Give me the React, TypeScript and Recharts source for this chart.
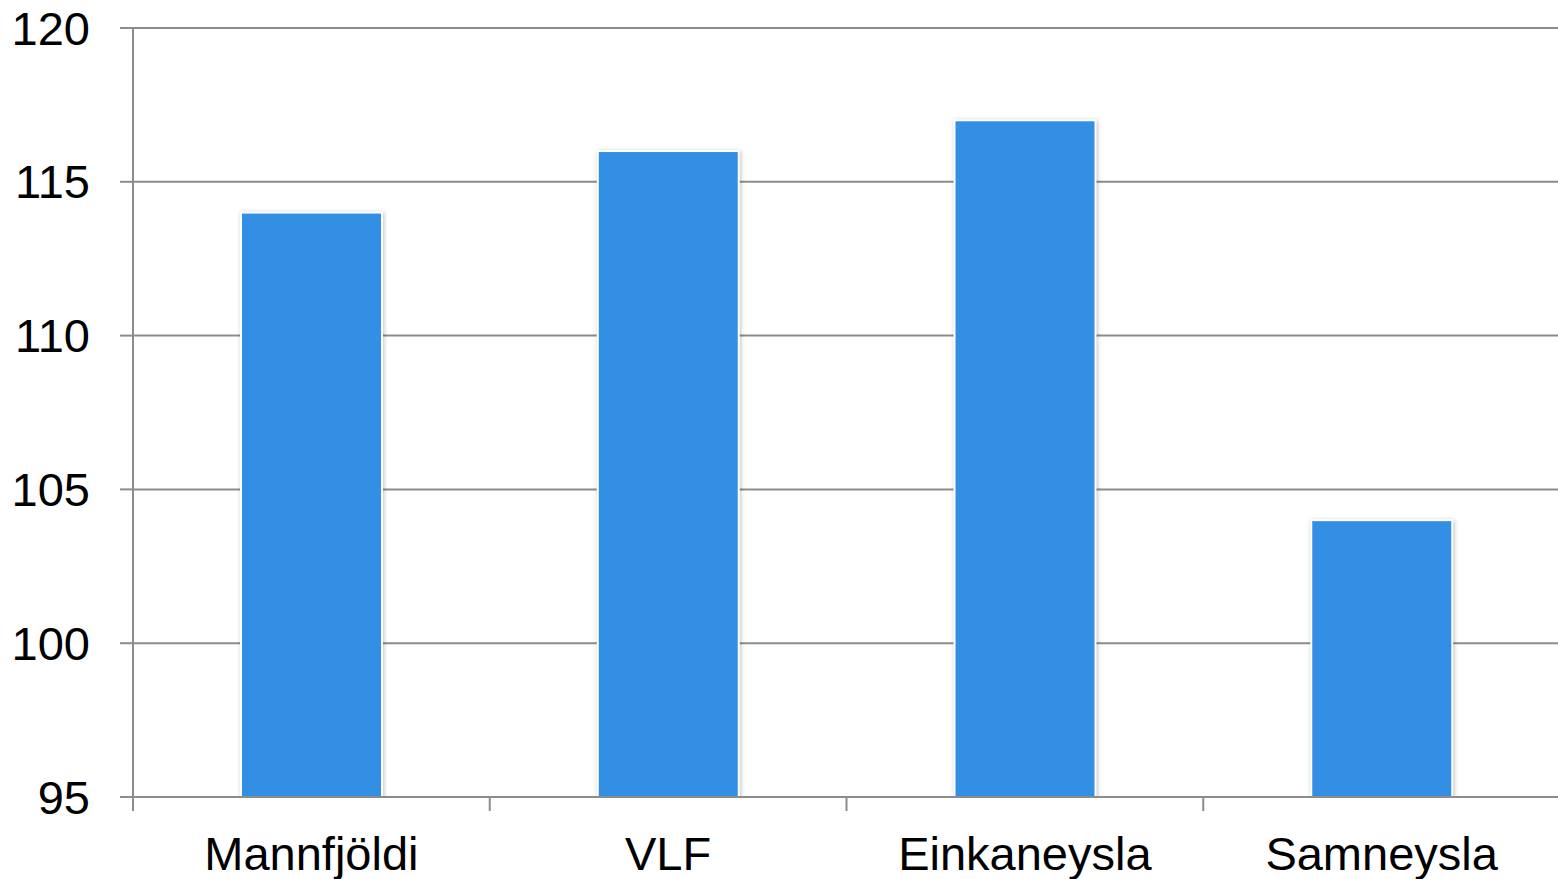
import React from "react";
import { BarChart, Bar, XAxis, YAxis, CartesianGrid } from "recharts";

const categories = ["Mannfjöldi", "VLF", "Einkaneysla", "Samneysla"];
const values = [114, 116, 117, 104];
const yTicks = [95, 100, 105, 110, 115, 120];

const data = categories.map((name, i) => ({ name, value: values[i] }));

const GRID = "#8c8c8c";
const FONT = "'Liberation Sans', Arial, sans-serif";

const XTick = (props: any) => {
  const { x, y, payload, visibleTicksCount } = props;
  const plotW = 1560 - 133;
  const half = plotW / (visibleTicksCount || 4) / 2;
  const axisY = y - 8;
  return (
    <g>
      <line x1={x - half} x2={x - half} y1={axisY} y2={axisY + 14} stroke={GRID} strokeWidth={2} />
      <text x={x} y={axisY + 73} textAnchor="middle" fill="#000" fontSize={47} fontFamily={FONT}>
        {payload.value}
      </text>
    </g>
  );
};

const BarShape = (props: any) => {
  const { x, y, width, height, fill } = props;
  return (
    <rect
      x={x}
      y={y}
      width={width}
      height={height}
      fill={fill}
      stroke="#ffffff"
      strokeWidth={2}
      style={{ filter: "drop-shadow(1px 1px 2px rgba(0,0,0,0.25))" }}
    />
  );
};

export default function App() {
  return (
    <div style={{ position: "absolute", left: 0, top: 0, width: 1558, height: 879, background: "#fff", overflow: "hidden" }}>
      <BarChart
        width={1560}
        height={879}
        data={data}
        margin={{ top: 28, right: 0, bottom: 0, left: 0 }}
      >
        <CartesianGrid vertical={false} stroke={GRID} strokeWidth={2} />
        <XAxis
          dataKey="name"
          height={82}
          axisLine={{ stroke: GRID, strokeWidth: 2 }}
          tickLine={false}
          tick={<XTick />}
          interval={0}
        />
        <YAxis
          width={133}
          domain={[95, 120]}
          ticks={yTicks}
          allowDataOverflow
          axisLine={{ stroke: GRID, strokeWidth: 2 }}
          tickLine={{ stroke: GRID, strokeWidth: 2 }}
          tickSize={13}
          tickMargin={30}
          tick={{ fill: "#000", fontSize: 47, fontFamily: FONT }}
        />
        <Bar dataKey="value" fill="#338fe3" barSize={141} isAnimationActive={false} shape={<BarShape />} />
      </BarChart>
    </div>
  );
}
